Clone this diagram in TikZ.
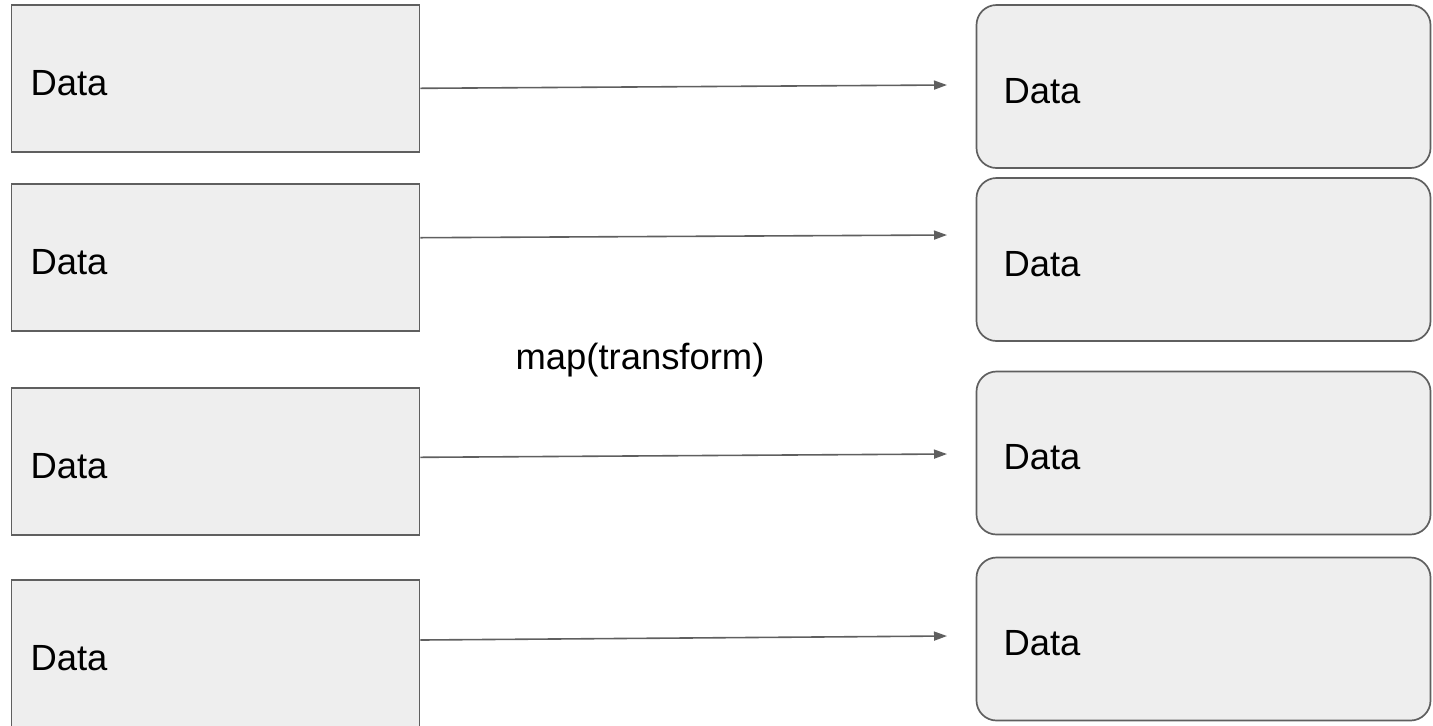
\documentclass[tikz,border=0pt]{standalone}
\usepackage{fontspec}
\setmainfont{Liberation Sans}
\usetikzlibrary{arrows.meta}

\definecolor{boxfill}{HTML}{EEEEEE}
\definecolor{boxline}{HTML}{5F5F5F}

\tikzset{
	databox/.style={draw=boxline, fill=boxfill, line width=0.85pt,
		minimum height=73.5pt, text width=185pt, inner xsep=9.5pt,
		text height=17pt, align=left, font=\fontsize{18.2}{22}\selectfont},
	resultbox/.style={databox, rounded corners=10pt,
		minimum height=81.5pt, text width=200pt, inner xsep=13.5pt},
	maparrow/.style={-{Triangle[length=6.5pt,width=4.5pt]},
		line width=0.8pt, draw=boxline}
}

\begin{document}
\begin{tikzpicture}[x=0.5pt, y=-0.5pt]
	\useasboundingbox (0,0) rectangle (1433,725);

	\coordinate[](a1) at (215.5, 78.5);
	\coordinate[](a2) at (215.5, 257.5);
	\coordinate[](a3) at (215.5, 461.5);
	\coordinate[](a4) at (215.5, 653.5);

	\coordinate[](b1) at (1203.5, 86.5);
	\coordinate[](b2) at (1203.5, 259.5);
	\coordinate[](b3) at (1203.5, 453);
	\coordinate[](b4) at (1203.5, 639);

	\coordinate[](t1) at (947, 85);
	\coordinate[](t2) at (947, 235);
	\coordinate[](t3) at (947, 454);
	\coordinate[](t4) at (947, 636);

	% Input data
	\node[databox] (in1) at (a1) {Data};
	\node[databox] (in2) at (a2) {Data};
	\node[databox] (in3) at (a3) {Data};
	\node[databox] (in4) at (a4) {Data};

	% Output data
	\node[resultbox] (out1) at (b1) {Data};
	\node[resultbox] (out2) at (b2) {Data};
	\node[resultbox] (out3) at (b3) {Data};
	\node[resultbox] (out4) at (b4) {Data};

	%% Mapping
	\draw[maparrow] ([yshift=-4.9pt]in1.east) -- (t1);
	\draw[maparrow] ([yshift=9.9pt]in2.east) -- (t2);
	\draw[maparrow] ([yshift=2.1pt]in3.east) -- (t3);
	\draw[maparrow] ([yshift=6.75pt]in4.east) -- (t4);
	\node[font=\fontsize{18.2}{22}\selectfont] (fn) at (640, 360) {map(transform)};

\end{tikzpicture}
\end{document}
